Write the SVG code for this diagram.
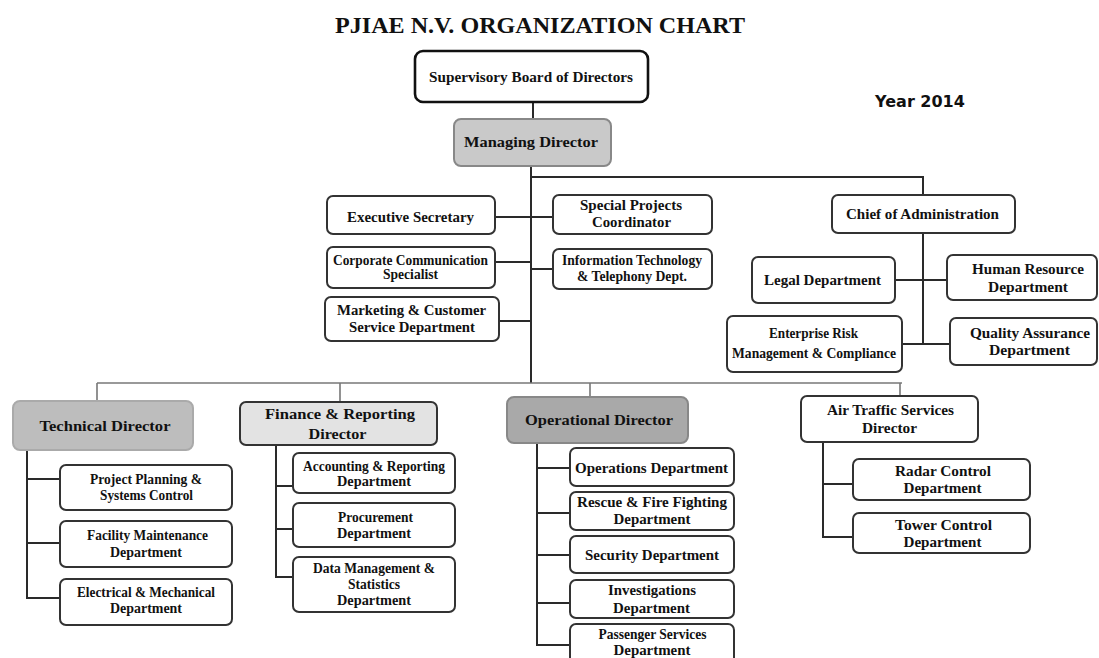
<svg xmlns="http://www.w3.org/2000/svg" width="1099" height="658" viewBox="0 0 1099 658">
<style>
.bx{fill:#fff;stroke:#333;stroke-width:2}
.t{font-family:"Liberation Serif","Times New Roman",serif;font-weight:bold;font-size:15px;fill:#111;text-anchor:middle}
.c{fill:none;stroke:#2a2a2a;stroke-width:2}
.cg{fill:none;stroke:#777;stroke-width:1.6}
</style>
<rect width="1099" height="658" fill="#fff"/>
<text x="540" y="33" font-family="Liberation Serif,serif" font-weight="bold" font-size="24" fill="#111" text-anchor="middle" textLength="410" lengthAdjust="spacingAndGlyphs">PJIAE N.V. ORGANIZATION CHART</text>
<text x="920" y="107" font-family="DejaVu Sans,sans-serif" font-weight="bold" font-size="16" fill="#111" text-anchor="middle">Year 2014</text>

<g id="connectors">
<path class="c" d="M533 102V120"/>
<path class="c" d="M531 166V383"/>
<path class="c" d="M531 177H923V195"/>
<path class="c" d="M495 217H531M531 217H553"/>
<path class="c" d="M495 262H531M531 269H553"/>
<path class="c" d="M499 321H531"/>
<path class="c" d="M923 233V344"/>
<path class="c" d="M895 280H947"/>
<path class="c" d="M902 344H950"/>
<path class="cg" d="M97 383H902"/>
<path class="cg" d="M97 383V401M340 383V402M590 383V397M900 383V396"/>
<path class="c" d="M27 450V598H60M27 479H60M27 543H60"/>
<path class="c" d="M276 445V577H293M276 486H293M276 529H293"/>
<path class="c" d="M537 443V645H570M537 468H570M537 513H570M537 555H570M537 603H570"/>
<path class="c" d="M823 442V537H853M823 484H853"/>
</g>

<g id="supervisory-board"><rect x="415" y="51" width="233" height="51" rx="8" fill="#fff" stroke="#111" stroke-width="2.6"/><text class="t" x="531" y="82" font-size="16" textLength="204" lengthAdjust="spacingAndGlyphs">Supervisory Board of  Directors</text></g>
<g id="managing-director"><rect x="454" y="119" width="157" height="47" rx="7" fill="#c9c9c9" stroke="#888" stroke-width="2"/><text class="t" x="531" y="147" font-size="17" fill="#333" textLength="134" lengthAdjust="spacingAndGlyphs">Managing Director</text></g>

<g id="executive-secretary"><rect class="bx" x="327" y="196" width="168" height="38" rx="6"/><text class="t" x="410.5" y="222" textLength="127" lengthAdjust="spacingAndGlyphs">Executive Secretary</text></g>
<g id="special-projects"><rect class="bx" x="553" y="195" width="159" height="39" rx="6"/><text class="t" x="631" y="210" textLength="102" lengthAdjust="spacingAndGlyphs">Special Projects</text><text class="t" x="631.5" y="227" textLength="79" lengthAdjust="spacingAndGlyphs">Coordinator</text></g>
<g id="corporate-communication"><rect class="bx" x="327" y="247" width="168" height="41" rx="6"/><text class="t" x="410.5" y="265" font-size="14.5" textLength="155" lengthAdjust="spacingAndGlyphs">Corporate Communication</text><text class="t" x="410.5" y="279" font-size="14.5" textLength="55" lengthAdjust="spacingAndGlyphs">Specialist</text></g>
<g id="information-technology"><rect class="bx" x="553" y="249" width="159" height="40" rx="6"/><text class="t" x="632" y="265" font-size="14.5" textLength="140" lengthAdjust="spacingAndGlyphs">Information Technology</text><text class="t" x="632" y="281" font-size="14.5" textLength="110" lengthAdjust="spacingAndGlyphs">&amp; Telephony Dept.</text></g>
<g id="marketing"><rect class="bx" x="325" y="297" width="174" height="44" rx="6"/><text class="t" x="411.5" y="315" textLength="149" lengthAdjust="spacingAndGlyphs">Marketing &amp; Customer</text><text class="t" x="412" y="332" textLength="126" lengthAdjust="spacingAndGlyphs">Service Department</text></g>

<g id="chief-administration"><rect class="bx" x="832" y="195" width="183" height="38" rx="6"/><text class="t" x="922.5" y="219" textLength="153" lengthAdjust="spacingAndGlyphs">Chief of Administration</text></g>
<g id="legal"><rect class="bx" x="752" y="257" width="143" height="46" rx="6"/><text class="t" x="822.5" y="285" textLength="117" lengthAdjust="spacingAndGlyphs">Legal Department</text></g>
<g id="human-resource"><rect class="bx" x="947" y="255" width="150" height="45" rx="6"/><text class="t" x="1028" y="274" textLength="112" lengthAdjust="spacingAndGlyphs">Human Resource</text><text class="t" x="1028" y="292" textLength="80" lengthAdjust="spacingAndGlyphs">Department</text></g>
<g id="enterprise-risk"><rect class="bx" x="727" y="316" width="175" height="56" rx="6"/><text class="t" x="813.5" y="338" textLength="89" lengthAdjust="spacingAndGlyphs">Enterprise Risk</text><text class="t" x="814" y="358" font-size="14.5" textLength="164" lengthAdjust="spacingAndGlyphs">Management &amp; Compliance</text></g>
<g id="quality-assurance"><rect class="bx" x="950" y="318" width="147" height="47" rx="6"/><text class="t" x="1030" y="338" textLength="120" lengthAdjust="spacingAndGlyphs">Quality Assurance</text><text class="t" x="1029.5" y="355" textLength="81" lengthAdjust="spacingAndGlyphs">Department</text></g>

<g id="technical-director"><rect x="13" y="401" width="180" height="49" rx="7" fill="#bdbdbd" stroke="#aaa" stroke-width="2"/><text class="t" x="105" y="431" font-size="16" fill="#555" textLength="131" lengthAdjust="spacingAndGlyphs">Technical Director</text></g>
<g id="project-planning"><rect class="bx" x="60" y="465" width="172" height="45" rx="6"/><text class="t" x="146" y="484" textLength="112" lengthAdjust="spacingAndGlyphs">Project Planning &amp;</text><text class="t" x="146.5" y="500" textLength="93" lengthAdjust="spacingAndGlyphs">Systems Control</text></g>
<g id="facility-maintenance"><rect class="bx" x="60" y="521" width="172" height="46" rx="6"/><text class="t" x="147.5" y="540" textLength="121" lengthAdjust="spacingAndGlyphs">Facility Maintenance</text><text class="t" x="146" y="557" textLength="72" lengthAdjust="spacingAndGlyphs">Department</text></g>
<g id="electrical-mechanical"><rect class="bx" x="60" y="579" width="172" height="46" rx="6"/><text class="t" x="146" y="597" textLength="138" lengthAdjust="spacingAndGlyphs">Electrical &amp; Mechanical</text><text class="t" x="146" y="613" textLength="72" lengthAdjust="spacingAndGlyphs">Department</text></g>

<g id="finance-director"><rect x="240" y="402" width="197" height="43" rx="6" fill="#e3e3e3" stroke="#333" stroke-width="2"/><text class="t" x="340" y="419" font-size="16.5" textLength="150" lengthAdjust="spacingAndGlyphs">Finance &amp; Reporting</text><text class="t" x="337.5" y="439" font-size="16.5" textLength="58" lengthAdjust="spacingAndGlyphs">Director</text></g>
<g id="accounting-reporting"><rect class="bx" x="293" y="453" width="162" height="40" rx="6"/><text class="t" x="374" y="471" font-size="14.5" textLength="142" lengthAdjust="spacingAndGlyphs">Accounting &amp; Reporting</text><text class="t" x="374" y="486" font-size="14.5" textLength="74" lengthAdjust="spacingAndGlyphs">Department</text></g>
<g id="procurement"><rect class="bx" x="293" y="503" width="162" height="44" rx="6"/><text class="t" x="375.5" y="522" font-size="14.5" textLength="75" lengthAdjust="spacingAndGlyphs">Procurement</text><text class="t" x="374" y="538" font-size="14.5" textLength="74" lengthAdjust="spacingAndGlyphs">Department</text></g>
<g id="data-management"><rect class="bx" x="293" y="557" width="162" height="55" rx="6"/><text class="t" x="374" y="573" font-size="14.5" textLength="122" lengthAdjust="spacingAndGlyphs">Data Management &amp;</text><text class="t" x="374" y="589" font-size="14.5" textLength="52" lengthAdjust="spacingAndGlyphs">Statistics</text><text class="t" x="374" y="605" font-size="14.5" textLength="74" lengthAdjust="spacingAndGlyphs">Department</text></g>

<g id="operational-director"><rect x="507" y="397" width="181" height="46" rx="7" fill="#a9a9a9" stroke="#888" stroke-width="2"/><text class="t" x="599" y="425" font-size="16" fill="#333" textLength="148" lengthAdjust="spacingAndGlyphs">Operational Director</text></g>
<g id="operations"><rect class="bx" x="570" y="448" width="164" height="38" rx="6"/><text class="t" x="651.5" y="473" textLength="153" lengthAdjust="spacingAndGlyphs">Operations Department</text></g>
<g id="rescue-fire"><rect class="bx" x="570" y="492" width="164" height="38" rx="6"/><text class="t" x="652" y="507" textLength="150" lengthAdjust="spacingAndGlyphs">Rescue &amp; Fire Fighting</text><text class="t" x="652" y="524" textLength="77" lengthAdjust="spacingAndGlyphs">Department</text></g>
<g id="security"><rect class="bx" x="570" y="536" width="164" height="37" rx="6"/><text class="t" x="652" y="560" textLength="134" lengthAdjust="spacingAndGlyphs">Security Department</text></g>
<g id="investigations"><rect class="bx" x="570" y="580" width="164" height="38" rx="6"/><text class="t" x="652" y="595" textLength="88" lengthAdjust="spacingAndGlyphs">Investigations</text><text class="t" x="651.5" y="613" textLength="77" lengthAdjust="spacingAndGlyphs">Department</text></g>
<g id="passenger-services"><rect class="bx" x="570" y="624" width="164" height="40" rx="6"/><text class="t" x="652.5" y="639" textLength="108" lengthAdjust="spacingAndGlyphs">Passenger Services</text><text class="t" x="652" y="655" textLength="77" lengthAdjust="spacingAndGlyphs">Department</text></g>

<g id="air-traffic-director"><rect class="bx" x="801" y="396" width="177" height="46" rx="6"/><text class="t" x="890.5" y="415" textLength="127" lengthAdjust="spacingAndGlyphs">Air Traffic Services</text><text class="t" x="889.5" y="433" textLength="55" lengthAdjust="spacingAndGlyphs">Director</text></g>
<g id="radar-control"><rect class="bx" x="853" y="459" width="177" height="41" rx="6"/><text class="t" x="943" y="476" textLength="96" lengthAdjust="spacingAndGlyphs">Radar Control</text><text class="t" x="942.5" y="493" textLength="78" lengthAdjust="spacingAndGlyphs">Department</text></g>
<g id="tower-control"><rect class="bx" x="853" y="513" width="177" height="40" rx="6"/><text class="t" x="943.5" y="530" textLength="97" lengthAdjust="spacingAndGlyphs">Tower Control</text><text class="t" x="942.5" y="547" textLength="78" lengthAdjust="spacingAndGlyphs">Department</text></g>
</svg>
